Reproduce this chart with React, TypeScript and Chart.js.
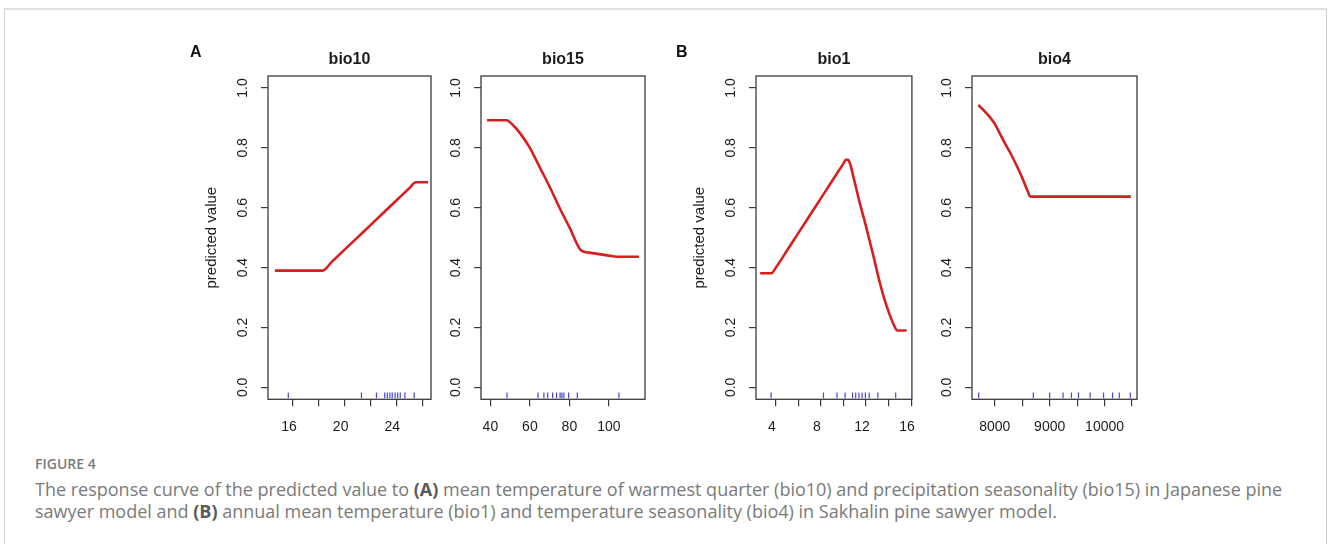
import React, { useEffect, useRef } from "react";
import { Chart, registerables } from "chart.js";

Chart.register(...registerables);

// ---------- data ----------
const Y_TICKS = [0, 0.2, 0.4, 0.6, 0.8, 1.0];
const Y_RANGE = [-0.04, 1.04];
const RUG_Y = -0.027;

const BIO10_X = [14.6, 16, 17, 18.3, 19, 20, 21, 22, 23, 24, 25, 25.5, 26.45];
const BIO10_Y = [0.39, 0.39, 0.39, 0.39, 0.419, 0.46, 0.501, 0.542, 0.583, 0.624, 0.665, 0.685, 0.685];
const BIO10_RUG = [15.64, 21.3, 22.46, 23.1, 23.3, 23.5, 23.68, 23.9, 24.1, 24.3, 24.66, 25.38];
const BIO10_TICKS = [16, 18, 20, 22, 24, 26];
const BIO10_LABELS = [16, 20, 24];
const BIO10_RANGE = [14.07, 26.68];

const BIO15_X = [38.3, 48.1, 52, 56, 60, 65, 70, 75, 80, 86, 90, 95, 100, 104, 115.2];
const BIO15_Y = [0.892, 0.892, 0.872, 0.84, 0.8, 0.735, 0.67, 0.6, 0.535, 0.457, 0.45, 0.445, 0.44, 0.436, 0.436];
const BIO15_RUG = [48.4, 64.1, 67.1, 69, 71.5, 73.5, 75.3, 76.2, 77.2, 79.6, 84, 105.1];
const BIO15_TICKS = [40, 60, 80, 100];
const BIO15_LABELS = [40, 60, 80, 100];
const BIO15_RANGE = [35.24, 118.3];

const BIO1_X = [2.6, 3.6, 4, 5, 6, 7, 8, 9, 9.6, 10.0, 10.2, 10.4, 10.6, 10.86, 11.4, 12.0, 12.6, 13.14, 13.6, 14.1, 14.57, 14.75, 15.6];
const BIO1_Y = [0.381, 0.381, 0.4, 0.458, 0.516, 0.574, 0.632, 0.69, 0.725, 0.748, 0.76, 0.76, 0.745, 0.706, 0.622, 0.537, 0.447, 0.362, 0.298, 0.242, 0.2, 0.19, 0.19];
const BIO1_RUG = [3.57, 8.22, 9.42, 10.14, 10.8, 11.08, 11.37, 11.65, 11.94, 12.28, 13.05, 14.63];
const BIO1_TICKS = [4, 6, 8, 10, 12, 14, 16];
const BIO1_LABELS = [4, 8, 12, 16];
const BIO1_RANGE = [2.23, 16.07];

const BIO4_X = [7700, 7800, 7900, 8000, 8100, 8200, 8300, 8400, 8500, 8600, 8650, 10480];
const BIO4_Y = [0.943, 0.925, 0.905, 0.88, 0.845, 0.81, 0.777, 0.74, 0.7, 0.655, 0.637, 0.637];
const BIO4_RUG = [7707, 8702, 9000, 9244, 9397, 9525, 9737, 9982, 10146, 10268, 10469];
const BIO4_TICKS = [8000, 8500, 9000, 9500, 10000, 10500];
const BIO4_LABELS = [8000, 9000, 10000];
const BIO4_RANGE = [7585, 10591];

// ---------- styles / layout ----------
const RED = "#d81e1e";
const BLUE = "#4646d6";
const AXIS = "#3a3a3a";
const TEXT = "#1c1c1c";
const FONT = "'Liberation Sans', Arial, Helvetica, sans-serif";
const Y_AXIS_W = 70;
const RIGHT_PAD = 14;
const CANVAS_TOP = 40;
const CANVAS_H = 404;
const X_AXIS_H = 44.7;

type PanelCfg = {
  title: string;
  xs: number[];
  ys: number[];
  rug: number[];
  ticks: number[];
  labels: number[];
  range: number[];
  boxLeft: number;
  boxRight: number;
  yTitle: boolean;
  labelOffset: number;
};

const PANELS: PanelCfg[] = [
  { title: "bio10", xs: BIO10_X, ys: BIO10_Y, rug: BIO10_RUG, ticks: BIO10_TICKS, labels: BIO10_LABELS, range: BIO10_RANGE, boxLeft: 268, boxRight: 431, yTitle: true, labelOffset: -4 },
  { title: "bio15", xs: BIO15_X, ys: BIO15_Y, rug: BIO15_RUG, ticks: BIO15_TICKS, labels: BIO15_LABELS, range: BIO15_RANGE, boxLeft: 481, boxRight: 645, yTitle: false, labelOffset: 0 },
  { title: "bio1", xs: BIO1_X, ys: BIO1_Y, rug: BIO1_RUG, ticks: BIO1_TICKS, labels: BIO1_LABELS, range: BIO1_RANGE, boxLeft: 756, boxRight: 917, yTitle: true, labelOffset: -4 },
  { title: "bio4", xs: BIO4_X, ys: BIO4_Y, rug: BIO4_RUG, ticks: BIO4_TICKS, labels: BIO4_LABELS, range: BIO4_RANGE, boxLeft: 972, boxRight: 1137, yTitle: false, labelOffset: 0 },
];

const boxPlugin = {
  id: "rbox",
  afterDraw(chart: any) {
    const { ctx, chartArea } = chart;
    ctx.save();
    ctx.strokeStyle = AXIS;
    ctx.lineWidth = 1.3;
    ctx.strokeRect(chartArea.left, chartArea.top, chartArea.right - chartArea.left, chartArea.bottom - chartArea.top);
    ctx.restore();
  },
};

function Panel({ cfg }: { cfg: PanelCfg }) {
  const ref = useRef<HTMLCanvasElement>(null);
  const width = Y_AXIS_W + (cfg.boxRight - cfg.boxLeft) + RIGHT_PAD;
  useEffect(() => {
    const tickFont = { family: FONT, size: 14 };
    const chart = new Chart(ref.current as HTMLCanvasElement, {
      type: "line",
      data: {
        datasets: [
          {
            type: "line",
            data: cfg.xs.map((x, i) => ({ x, y: cfg.ys[i] })),
            borderColor: RED,
            borderWidth: 2.6,
            pointRadius: 0,
            cubicInterpolationMode: "monotone",
            fill: false,
          } as any,
          {
            type: "scatter",
            data: cfg.rug.map((x) => ({ x, y: RUG_Y })),
            pointStyle: "line",
            rotation: 90,
            radius: 2.8,
            borderColor: BLUE,
            backgroundColor: BLUE,
            borderWidth: 1.2,
          } as any,
        ],
      },
      options: {
        animation: false,
        responsive: false,
        maintainAspectRatio: false,
        events: [],
        layout: { padding: { left: 0, right: RIGHT_PAD, top: 0, bottom: 0 } },
        plugins: {
          legend: { display: false },
          tooltip: { enabled: false },
          title: {
            display: true,
            fullSize: false,
            text: cfg.title,
            color: TEXT,
            font: { family: FONT, size: 16, weight: "bold" },
            padding: { top: 10.4, bottom: 6.4 },
          },
        },
        scales: {
          x: {
            type: "linear",
            min: cfg.range[0],
            max: cfg.range[1],
            afterBuildTicks: (s: any) => {
              s.ticks = cfg.ticks.map((v) => ({ value: v }));
            },
            afterFit: (s: any) => {
              s.height = X_AXIS_H;
            },
            grid: { display: true, drawOnChartArea: false, drawTicks: true, tickLength: 7, color: AXIS, lineWidth: 1.2 },
            border: { display: false },
            ticks: {
              autoSkip: false,
              maxRotation: 0,
              minRotation: 0,
              padding: 12,
              labelOffset: cfg.labelOffset,
              color: TEXT,
              font: tickFont,
              callback: (v: any) => (cfg.labels.includes(Number(v)) ? String(v) : ""),
            },
          },
          y: {
            type: "linear",
            min: Y_RANGE[0],
            max: Y_RANGE[1],
            afterBuildTicks: (s: any) => {
              s.ticks = Y_TICKS.map((v) => ({ value: v }));
            },
            afterFit: (s: any) => {
              s.width = Y_AXIS_W;
            },
            grid: { display: true, drawOnChartArea: false, drawTicks: true, tickLength: 7, color: AXIS, lineWidth: 1.2 },
            border: { display: false },
            ticks: {
              autoSkip: false,
              minRotation: 90,
              maxRotation: 90,
              crossAlign: "center",
              padding: 8,
              color: TEXT,
              font: tickFont,
              callback: (v: any) => Number(v).toFixed(1),
            },
            title: {
              display: cfg.yTitle,
              text: "predicted value",
              color: TEXT,
              font: { family: FONT, size: 15 },
              padding: { top: 4.5, bottom: 0 },
            },
          },
        },
      } as any,
      plugins: [boxPlugin],
    });
    return () => chart.destroy();
  }, []);
  return (
    <canvas
      ref={ref}
      width={width}
      height={CANVAS_H}
      style={{ position: "absolute", left: cfg.boxLeft - Y_AXIS_W, top: CANVAS_TOP, width, height: CANVAS_H }}
    />
  );
}

const CAPTION_STYLE: React.CSSProperties = {
  position: "absolute",
  left: 35,
  top: 478,
  fontFamily: "'Open Sans', sans-serif",
  fontSize: 18,
  lineHeight: "22px",
  color: "#7a7a7a",
  whiteSpace: "nowrap",
};

export default function App() {
  return (
    <div style={{ position: "absolute", left: 0, top: 0, width: 1328, height: 544, background: "#fff", overflow: "hidden" }}>
      <div
        style={{
          position: "absolute",
          left: 4,
          top: 8,
          width: 1321,
          height: 600,
          borderTop: "2px solid #e0e0e0",
          borderLeft: "1px solid #cfcfcf",
          borderRight: "1px solid #cfcfcf",
        }}
      />
      {PANELS.map((p) => (
        <Panel key={p.title} cfg={p} />
      ))}
      <div style={{ position: "absolute", left: 190, top: 43, fontFamily: FONT, fontWeight: "bold", fontSize: 16, color: "#111" }}>A</div>
      <div style={{ position: "absolute", left: 676, top: 43, fontFamily: FONT, fontWeight: "bold", fontSize: 16, color: "#111" }}>B</div>
      <div
        style={{
          position: "absolute",
          left: 35,
          top: 454,
          fontFamily: "'Open Sans', sans-serif",
          fontSize: 14,
          fontWeight: 600,
          color: "#7a7a7a",
        }}
      >
        FIGURE 4
      </div>
      <div style={CAPTION_STYLE}>
        The response curve of the predicted value to <b style={{ color: "#5a5a5a" }}>(A)</b> mean temperature of warmest quarter (bio10) and precipitation seasonality (bio15) in Japanese pine
        <br />
        sawyer model and <b style={{ color: "#5a5a5a" }}>(B)</b> annual mean temperature (bio1) and temperature seasonality (bio4) in Sakhalin pine sawyer model.
      </div>
    </div>
  );
}
